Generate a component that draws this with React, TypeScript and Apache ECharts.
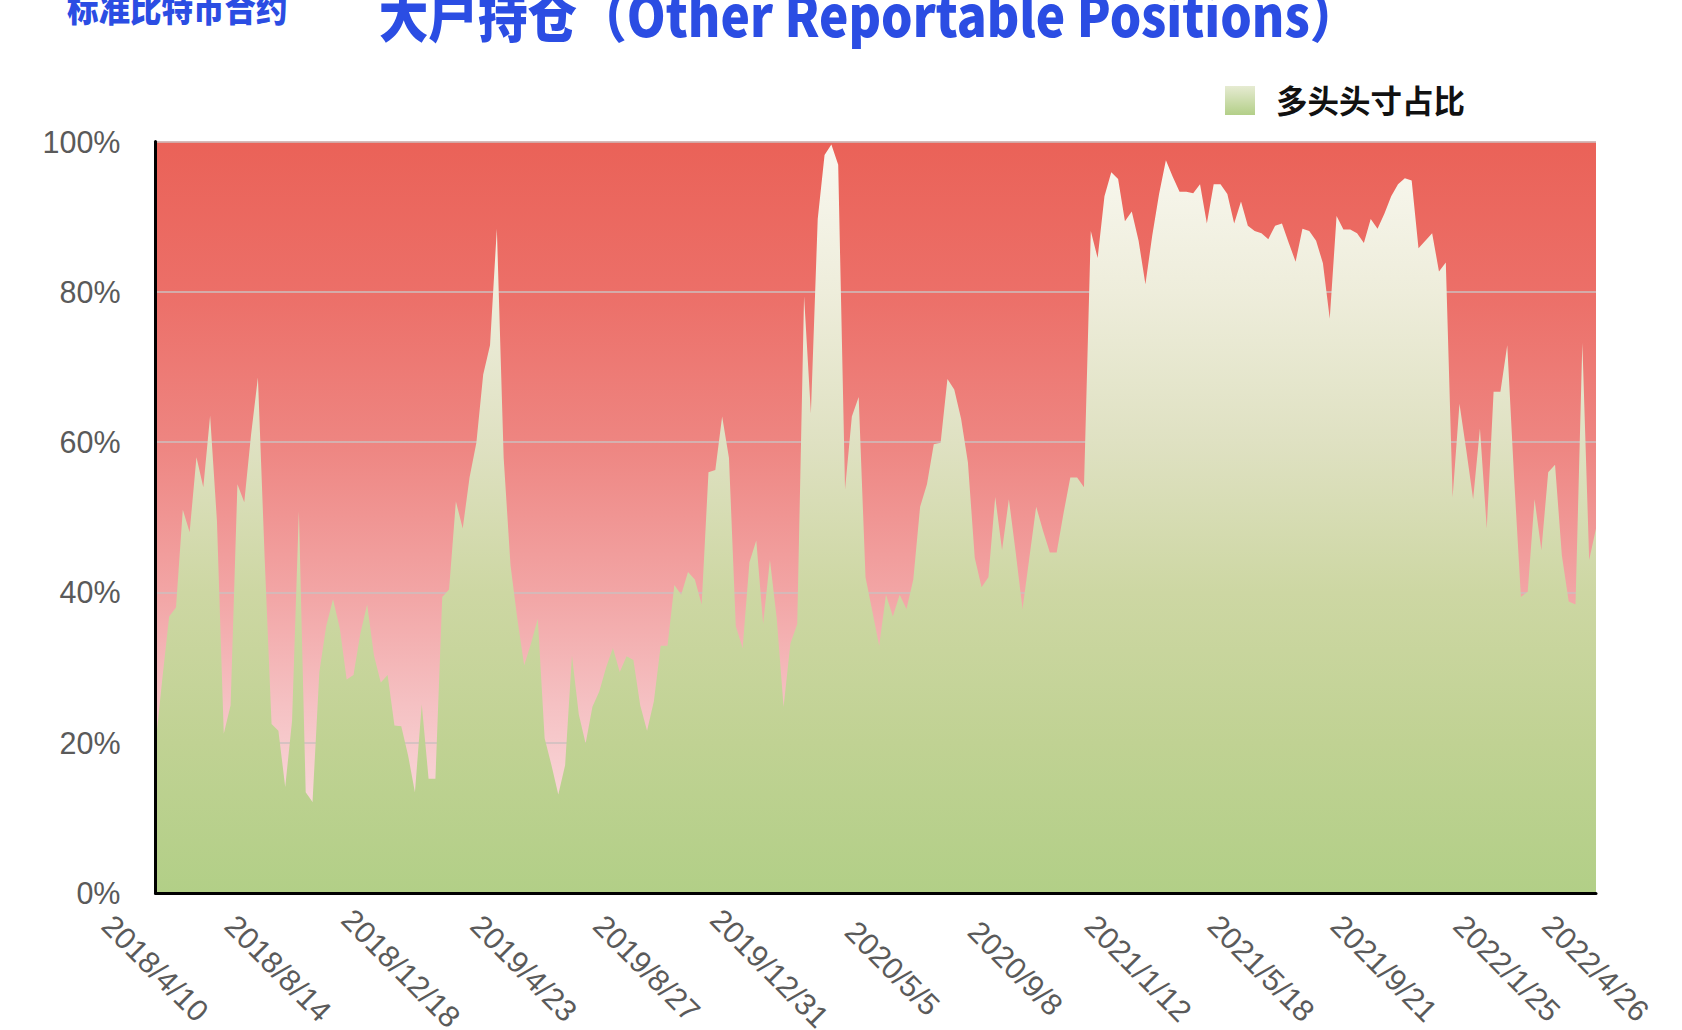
import React, { useEffect, useRef } from "react";
import * as echarts from "echarts";

// Weekly share of long positions held by "other reportable" traders, in %.
const LONG_SHARE: number[] = [
  19.8, 28.5, 36.8, 38, 51, 48, 58, 54, 63.5, 49.5,
  21.2, 25, 54.4, 52, 61, 68.6, 44.3, 22.5, 21.6, 14.1,
  22.9, 50.8, 13.4, 12.1, 29.4, 35.5, 39.1, 35.2, 28.4, 29,
  34.5, 38.4, 31.6, 28, 29, 22.3, 22.2, 18.3, 13.4, 25.1,
  15.2, 15.2, 39.4, 40.4, 52.1, 48.5, 55.3, 59.9, 69, 72.9,
  88.4, 57.9, 43.6, 36.5, 30.3, 33.2, 36.5, 20.6, 17, 13.1,
  17, 31.6, 23.8, 19.9, 24.8, 26.8, 30, 32.6, 29.4, 31.5,
  31, 25, 21.6, 25.5, 32.9, 32.9, 41, 39.7, 42.7, 41.7,
  38.4, 56, 56.3, 63.4, 57.9, 35.5, 32.6, 44, 46.9, 35.8,
  44.3, 36.5, 24.8, 33.2, 35.8, 79.4, 63.8, 89.7, 98.2, 99.6,
  96.9, 53.7, 63.4, 66, 42, 37.5, 32.9, 39.7, 36.8, 39.7,
  37.8, 41.7, 51.4, 54.4, 59.7, 59.9, 68.4, 67, 63.1, 57.3,
  44.6, 40.7, 42, 52.7, 45.6, 52.4, 45.3, 37.8, 44.6, 51.4,
  48.2, 45.3, 45.3, 50.5, 55.3, 55.3, 54, 88.1, 84.5, 92.7,
  95.9, 95, 89.4, 90.7, 86.8, 81, 87.5, 93, 97.5, 95.3,
  93.3, 93.3, 93.1, 94.3, 89.1, 94.3, 94.3, 93, 89.1, 92,
  88.8, 88.1, 87.8, 87, 88.8, 89.1, 86.5, 84, 88.4, 88.1,
  86.8, 83.8, 76.4, 90.1, 88.3, 88.3, 87.8, 86.5, 89.7, 88.4,
  90.4, 92.7, 94.3, 95.1, 94.8, 85.8, 86.8, 87.8, 82.7, 83.9,
  52.7, 65.1, 58.9, 52.4, 61.8, 48.5, 66.7, 66.7, 72.9, 55.3,
  39.4, 40.1, 52.4, 45.6, 56, 57, 44.9, 38.8, 38.4, 73.2,
  44.3, 48.5,
];

// Report dates: one every Tuesday starting 2018/4/10.
const FIRST_REPORT = Date.UTC(2018, 3, 10);
const WEEK_MS = 7 * 24 * 3600 * 1000;
const WEEKS: string[] = LONG_SHARE.map((_, i) => {
  const d = new Date(FIRST_REPORT + i * WEEK_MS);
  return `${d.getUTCFullYear()}/${d.getUTCMonth() + 1}/${d.getUTCDate()}`;
});
const LABEL_STEP = 18;

const TITLE = "大户持仓（Other Reportable Positions）";
const SUBTITLE = "标准比特币合约";
const SERIES_NAME = "多头头寸占比";

const GRID = { left: 155.5, right: 86, top: 141.5, bottom: 137 };
const HEIGHT = 1030;

export default function App() {
  const ref = useRef<HTMLDivElement>(null);

  useEffect(() => {
    if (!ref.current) return;
    const chart = echarts.init(ref.current, undefined, { renderer: "svg" });
    const last = WEEKS.length - 1;
    const plotTop = GRID.top;
    const plotBottom = HEIGHT - GRID.bottom;

    const shortBg = {
      type: "linear",
      x: 0, y: 0, x2: 0, y2: 1,
      colorStops: [
        { offset: 0, color: "#ea6258" },
        { offset: 0.2, color: "#ec6f68" },
        { offset: 0.4, color: "#ee8581" },
        { offset: 0.6, color: "#f2a5a5" },
        { offset: 0.75, color: "#f5c1c3" },
        { offset: 0.9, color: "#f9dadc" },
        { offset: 1, color: "#fbe6e8" },
      ],
    };
    const longFill = {
      type: "linear",
      x: 0, y: plotTop, x2: 0, y2: plotBottom,
      global: true,
      colorStops: [
        { offset: 0, color: "#f9f8f0" },
        { offset: 0.2, color: "#eeeddb" },
        { offset: 0.4, color: "#dfe1c2" },
        { offset: 0.6, color: "#cdd7a3" },
        { offset: 0.8, color: "#c0d293" },
        { offset: 1, color: "#b2cf87" },
      ],
    };
    const legendFill = {
      type: "linear",
      x: 0, y: 0, x2: 0, y2: 1,
      colorStops: [
        { offset: 0, color: "#e6ebd2" },
        { offset: 1, color: "#b3cf88" },
      ],
    };

    const labelFont = {
      fontFamily: "Liberation Sans, Arial, sans-serif",
      fontSize: 30.5,
      color: "#5a5a5a",
    };

    chart.setOption({
      animation: false,
      backgroundColor: "#ffffff",
      grid: {
        ...GRID,
        show: true,
        borderWidth: 0,
        backgroundColor: shortBg,
        containLabel: false,
        outerBoundsMode: "none",
      },
      xAxis: [
        {
          type: "category",
          data: WEEKS,
          boundaryGap: false,
          position: "bottom",
          axisLine: { show: false },
          axisTick: { show: false },
          splitLine: { show: false },
          axisLabel: {
            ...labelFont,
            interval: (i: number) => i % LABEL_STEP === 0 || i === last,
            rotate: -45,
            align: "center",
            verticalAlign: "middle",
            margin: 75,
          },
        },
        {
          type: "category",
          data: WEEKS,
          boundaryGap: false,
          position: "bottom",
          z: 6,
          axisLine: { show: true, lineStyle: { color: "#000000", width: 3 } },
          axisTick: { show: false },
          axisLabel: { show: false },
          splitLine: { show: false },
        },
      ],
      yAxis: [
        {
          type: "value",
          min: 0,
          max: 100,
          interval: 20,
          position: "left",
          axisLine: { show: false },
          axisTick: { show: false },
          axisLabel: { ...labelFont, formatter: "{value}%", margin: 35 },
          splitLine: { show: true, lineStyle: { color: "#cdbfbf", width: 1.5 } },
        },
        {
          type: "value",
          min: 0,
          max: 100,
          interval: 20,
          position: "left",
          z: 6,
          axisLine: { show: true, lineStyle: { color: "#000000", width: 3 } },
          axisTick: { show: false },
          axisLabel: { show: false },
          splitLine: { show: false },
        },
      ],
      series: [
        {
          name: SERIES_NAME,
          type: "line",
          data: LONG_SHARE,
          xAxisIndex: 0,
          yAxisIndex: 0,
          showSymbol: false,
          symbol: "none",
          lineStyle: { width: 0 },
          areaStyle: { color: longFill, opacity: 1 },
          z: 3,
        },
      ],
      graphic: [
        {
          type: "text",
          x: 67,
          y: 7,
          scaleX: 0.9,
          style: {
            text: SUBTITLE,
            fill: "#2b4de3",
            font: "900 35px 'Noto Sans CJK SC'",
            textAlign: "left",
            textVerticalAlign: "middle",
          },
        },
        {
          type: "text",
          x: 869,
          y: 13,
          scaleX: 0.886,
          style: {
            text: TITLE,
            fill: "#2b4de3",
            font: "900 56px 'Noto Sans CJK SC'",
            textAlign: "center",
            textVerticalAlign: "middle",
          },
        },
        {
          type: "rect",
          shape: { x: 1225, y: 86, width: 30, height: 29 },
          style: { fill: legendFill },
        },
        {
          type: "text",
          x: 1276,
          y: 99,
          style: {
            text: SERIES_NAME,
            fill: "#111111",
            font: "bold 31.5px 'Noto Sans CJK SC'",
            textAlign: "left",
            textVerticalAlign: "middle",
          },
        },
      ],
    });

    return () => chart.dispose();
  }, []);

  return (
    <div
      ref={ref}
      style={{ position: "fixed", left: 0, top: 0, width: 1682, height: 1030, background: "#fff" }}
    />
  );
}
